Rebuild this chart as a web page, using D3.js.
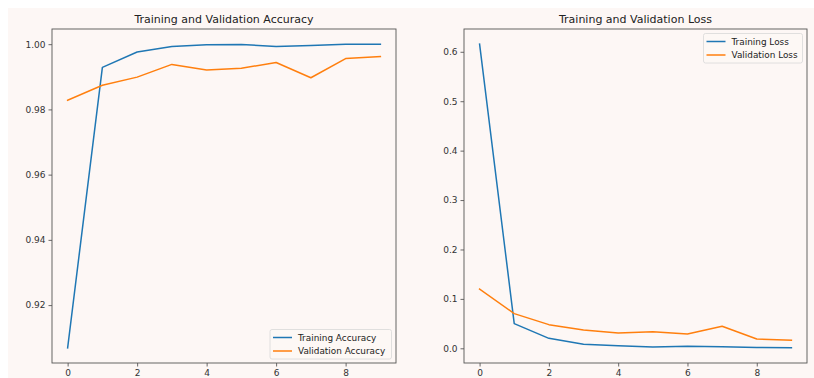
<!DOCTYPE html>
<html>
<head>
<meta charset="utf-8">
<script src="https://cdn.jsdelivr.net/npm/d3@7"></script>
<style>
  html, body { margin: 0; padding: 0; background: #ffffff; }
  svg { display: block; }
  text { font-family: "DejaVu Sans", sans-serif; }
</style>
</head>
<body>
<svg id="chart" width="814" height="378"></svg>
<script>
// Training history over 10 epochs
const epochs = [0, 1, 2, 3, 4, 5, 6, 7, 8, 9];
const trainAcc = [0.9069, 0.9929, 0.9976, 0.9993, 0.9998, 0.9999, 0.9993, 0.9996, 1.0, 1.0];
const valAcc = [0.9828, 0.9874, 0.9899, 0.9938, 0.9921, 0.9926, 0.9944, 0.9897, 0.9956, 0.9962];
const trainLoss = [0.6154, 0.0500, 0.0202, 0.0081, 0.0054, 0.0027, 0.0040, 0.0030, 0.0015, 0.0010];
const valLoss = [0.1199, 0.0702, 0.0479, 0.0370, 0.0310, 0.0337, 0.0290, 0.0445, 0.0189, 0.0162];
const xTicks = [0, 2, 4, 6, 8];
const accTicks = [0.92, 0.94, 0.96, 0.98, 1.00];
const lossTicks = [0.0, 0.1, 0.2, 0.3, 0.4, 0.5, 0.6];

const BLUE = "#1f77b4", ORANGE = "#ff7f0e";
const svg = d3.select("#chart");

// figure background
svg.append("rect").attr("x", 8).attr("y", 8).attr("width", 806).attr("height", 370)
  .attr("fill", "#fdf7f5");

function panel(opts) {
  const { left, right, top, bottom, title, series, names, yTicks, yFmt, legend } = opts;
  const g = svg.append("g");
  const all = series.flat();
  const lo = d3.min(all), hi = d3.max(all), pad = (hi - lo) * 0.05;
  const x = d3.scaleLinear().domain([-0.45, 9.45]).range([left, right]);
  const y = d3.scaleLinear().domain([lo - pad, hi + pad]).range([bottom, top]);

  // series lines
  const line = (vals) => d3.line().x((d, i) => x(epochs[i])).y(d => y(d))(vals);
  [BLUE, ORANGE].forEach((c, k) => {
    g.append("path").attr("d", line(series[k])).attr("fill", "none")
      .attr("stroke", c).attr("stroke-width", 1.5).attr("stroke-linejoin", "round")
      .attr("stroke-linecap", "square");
  });

  // axes
  const xa = g.append("g").attr("transform", `translate(0,${bottom})`)
    .call(d3.axisBottom(x).tickValues(xTicks).tickFormat(d3.format("d")).tickSize(3.5).tickPadding(3));
  const ya = g.append("g").attr("transform", `translate(${left},0)`)
    .call(d3.axisLeft(y).tickValues(yTicks).tickFormat(yFmt).tickSize(3.5).tickPadding(3));
  [xa, ya].forEach(a => {
    a.select(".domain").remove();
    a.selectAll("line").attr("stroke", "#444").attr("stroke-width", 0.8);
    a.selectAll("text").attr("fill", "#333").attr("font-size", 9)
      .attr("font-family", "DejaVu Sans, sans-serif");
  });

  // frame
  g.append("rect").attr("x", left).attr("y", top).attr("width", right - left)
    .attr("height", bottom - top).attr("fill", "none").attr("stroke", "#555").attr("stroke-width", 0.9);

  // title
  g.append("text").attr("x", (left + right) / 2).attr("y", top - 6)
    .attr("text-anchor", "middle").attr("font-size", 11).attr("fill", "#222").text(title);

  // legend
  const lg = g.append("g").attr("transform", `translate(${legend.x},${legend.y})`);
  lg.append("rect").attr("width", legend.w).attr("height", 29.5).attr("rx", 2)
    .attr("fill", "#fdf7f5").attr("fill-opacity", 0.8).attr("stroke", "#d8d8d8").attr("stroke-width", 0.8);
  names.forEach((n, k) => {
    const yy = 8 + k * 13.5;
    lg.append("line").attr("x1", 3).attr("x2", 22).attr("y1", yy).attr("y2", yy)
      .attr("stroke", [BLUE, ORANGE][k]).attr("stroke-width", 1.5);
    lg.append("text").attr("x", 28).attr("y", yy + 3.3).attr("font-size", 8.9)
      .attr("fill", "#222").text(n);
  });
}

panel({
  left: 52, right: 396, top: 29, bottom: 363,
  title: "Training and Validation Accuracy",
  series: [trainAcc, valAcc],
  names: ["Training Accuracy", "Validation Accuracy"],
  yTicks: accTicks, yFmt: d3.format(".2f"),
  legend: { x: 270, y: 329.5, w: 121.5 }
});

panel({
  left: 464, right: 807, top: 29, bottom: 363,
  title: "Training and Validation Loss",
  series: [trainLoss, valLoss],
  names: ["Training Loss", "Validation Loss"],
  yTicks: lossTicks, yFmt: d3.format(".1f"),
  legend: { x: 703.5, y: 33.5, w: 99 }
});
</script>
</body>
</html>
